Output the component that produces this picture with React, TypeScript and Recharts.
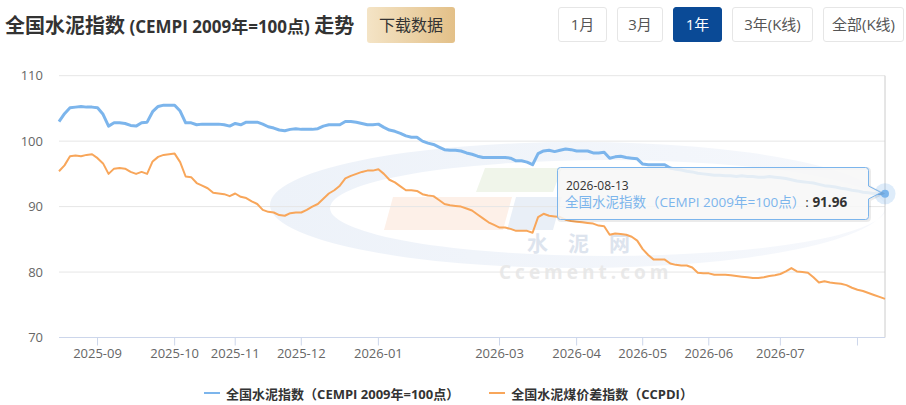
import { CartesianGrid, Line, LineChart, ReferenceLine, XAxis, YAxis } from "recharts";

document.body.style.margin = "0";

// one point per report day, 2025-08-13 .. 2026-08-13
const DATES = [
  "2025-08-13", "2025-08-15", "2025-08-18", "2025-08-20", "2025-08-22", "2025-08-26", "2025-08-28",
  "2025-09-01", "2025-09-03", "2025-09-05", "2025-09-08", "2025-09-10", "2025-09-12", "2025-09-15",
  "2025-09-17", "2025-09-19", "2025-09-22", "2025-09-24", "2025-09-26", "2025-09-28", "2025-09-30",
  "2025-10-09", "2025-10-10", "2025-10-13", "2025-10-15", "2025-10-17", "2025-10-20", "2025-10-22",
  "2025-10-24", "2025-10-27", "2025-10-29", "2025-10-31",
  "2025-11-03", "2025-11-05", "2025-11-07", "2025-11-10", "2025-11-12", "2025-11-14", "2025-11-17",
  "2025-11-19", "2025-11-21", "2025-11-24", "2025-11-26", "2025-11-28",
  "2025-12-01", "2025-12-03", "2025-12-05", "2025-12-08", "2025-12-10", "2025-12-12", "2025-12-15",
  "2025-12-17", "2025-12-19", "2025-12-22", "2025-12-24", "2025-12-26", "2025-12-29", "2025-12-31",
  "2026-01-05", "2026-01-07", "2026-01-09", "2026-01-12", "2026-01-14", "2026-01-16", "2026-01-19",
  "2026-01-21", "2026-01-23", "2026-01-26", "2026-01-28", "2026-01-30",
  "2026-02-02", "2026-02-04", "2026-02-06", "2026-02-09", "2026-02-11", "2026-02-13", "2026-02-24",
  "2026-02-25", "2026-02-26", "2026-02-27",
  "2026-03-02", "2026-03-04", "2026-03-06", "2026-03-09", "2026-03-11", "2026-03-13", "2026-03-16",
  "2026-03-18", "2026-03-20", "2026-03-23", "2026-03-25", "2026-03-27", "2026-03-30", "2026-03-31",
  "2026-04-01", "2026-04-03", "2026-04-07", "2026-04-09", "2026-04-13", "2026-04-15", "2026-04-17",
  "2026-04-20", "2026-04-22", "2026-04-24", "2026-04-27", "2026-04-29",
  "2026-05-06", "2026-05-08", "2026-05-11", "2026-05-13", "2026-05-15", "2026-05-18", "2026-05-20",
  "2026-05-22", "2026-05-25", "2026-05-27", "2026-05-28", "2026-05-29",
  "2026-06-01", "2026-06-03", "2026-06-05", "2026-06-08", "2026-06-10", "2026-06-12", "2026-06-15",
  "2026-06-17", "2026-06-19", "2026-06-22", "2026-06-24", "2026-06-26", "2026-06-29",
  "2026-07-01", "2026-07-03", "2026-07-06", "2026-07-08", "2026-07-10", "2026-07-13", "2026-07-15",
  "2026-07-17", "2026-07-20", "2026-07-22", "2026-07-24", "2026-07-27", "2026-07-29", "2026-07-31",
  "2026-08-03", "2026-08-05", "2026-08-07", "2026-08-10", "2026-08-12", "2026-08-13",
];

const CEMPI = [
  103.0, 104.2, 105.1, 105.2, 105.3, 105.2, 105.2, 105.1, 104.1, 102.3,
  102.8, 102.8, 102.7, 102.4, 102.3, 102.8, 102.9, 104.5, 105.3, 105.5,
  105.5, 105.5, 104.6, 102.8, 102.8, 102.5, 102.6, 102.6, 102.6, 102.6,
  102.5, 102.3, 102.7, 102.5, 102.9, 102.9, 102.9, 102.6, 102.2, 102.0,
  101.7, 101.6, 101.8, 101.9, 101.8, 101.8, 101.8, 101.9, 102.3, 102.5,
  102.5, 102.5, 103.0, 103.0, 102.9, 102.7, 102.5, 102.5, 102.6, 102.1,
  101.7, 101.5, 101.2, 100.8, 100.6, 100.6, 100.0, 99.7, 99.5, 99.1,
  98.7, 98.6, 98.6, 98.5, 98.2, 98.0, 97.7, 97.5, 97.5, 97.5,
  97.5, 97.5, 97.4, 97.0, 97.0, 96.8, 96.4, 98.1, 98.5, 98.6,
  98.4, 98.6, 98.8, 98.7, 98.5, 98.5, 98.5, 98.2, 98.2, 98.3,
  97.4, 97.6, 97.7, 97.5, 97.4, 97.3, 96.5, 96.4, 96.4, 96.4,
  96.4, 95.9, 95.7, 95.6, 95.4, 95.3, 95.1, 95.0, 94.9, 94.8,
  94.8, 94.7, 94.7, 94.6, 94.7, 94.6, 94.6, 94.5, 94.5, 94.6,
  94.5, 94.4, 94.3, 94.1, 93.9, 93.8, 93.7, 93.6, 93.4, 93.2,
  93.1, 93.0, 92.8, 92.7, 92.5, 92.4, 92.2, 92.1, 92.0, 92.0,
  91.96,
];

const CCPDI = [
  95.4, 96.3, 97.7, 97.8, 97.7, 97.9, 98.0, 97.4, 96.6, 95.0,
  95.8, 95.9, 95.8, 95.3, 95.0, 95.3, 95.0, 96.9, 97.6, 97.9,
  98.0, 98.1, 96.8, 94.6, 94.5, 93.6, 93.2, 92.8, 92.1, 92.0,
  91.9, 91.6, 92.0, 91.5, 91.3, 90.8, 90.4, 89.5, 89.2, 89.1,
  88.7, 88.6, 89.0, 89.1, 89.1, 89.5, 90.0, 90.4, 91.2, 92.0,
  92.5, 93.2, 94.3, 94.7, 95.0, 95.3, 95.5, 95.5, 95.7, 95.0,
  94.1, 93.7, 93.1, 92.5, 92.5, 92.4, 91.9, 91.7, 91.6, 91.0,
  90.4, 90.2, 90.1, 90.0, 89.7, 89.4, 88.8, 88.2, 87.6, 87.2,
  86.8, 86.8, 86.6, 86.3, 86.3, 86.3, 86.0, 88.4, 88.9, 88.6,
  88.5, 88.4, 88.0, 87.8, 87.7, 87.6, 87.5, 87.4, 87.1, 87.0,
  85.7, 85.9, 85.8, 85.7, 85.4, 84.8, 83.5, 82.6, 81.9, 81.9,
  81.9, 81.3, 81.1, 81.0, 81.0, 80.7, 79.9, 79.8, 79.8, 79.6,
  79.6, 79.6, 79.5, 79.4, 79.3, 79.2, 79.1, 79.1, 79.2, 79.4,
  79.5, 79.7, 80.1, 80.6, 80.1, 80.0, 79.9, 79.2, 78.4, 78.6,
  78.4, 78.3, 78.2, 78.0, 77.6, 77.3, 77.1, 76.8, 76.5, 76.2,
  75.9,
];

const Y_TICKS = [70, 80, 90, 100, 110];
const MONTH_TICKS = [
  "2025-09-01", "2025-10-09", "2025-11-03", "2025-12-01", "2026-01-05", "2026-03-02",
  "2026-04-01", "2026-05-06", "2026-06-01", "2026-07-01", "2026-08-03",
];
const HIDDEN_MONTH = "2026-08"; // tick drawn, label dropped (would overflow)

const RANGES = ["1月", "3月", "1年", "3年(K线)", "全部(K线)"];
const RANGE_WIDTHS = [49, 46, 49, 81, 81];
const ACTIVE_RANGE = "1年";

const CEMPI_NAME = "全国水泥指数（CEMPI 2009年=100点）";
const CCPDI_NAME = "全国水泥煤价差指数（CCPDI）";
const BLUE = "#7cb5ec";
const ORANGE = "#f8a65a";
const FONT = '"Open Sans", "Noto Sans CJK SC", sans-serif';

const LAST = DATES.length - 1;
const data = DATES.map((date, i) => ({ date, cempi: CEMPI[i], ccpdi: CCPDI[i] }));

function MonthTick(props: any) {
  const { x, y, payload } = props;
  const label = String(payload.value).slice(0, 7);
  if (label === HIDDEN_MONTH) return <g />;
  return (
    <text x={x} y={y} dy="0.71em" textAnchor="middle" fontSize={13} fill="#666" fontFamily={FONT}>
      {label}
    </text>
  );
}

function HoverDot(props: any) {
  const { cx, cy, index } = props;
  if (index !== LAST) return <g key={`d${index}`} />;
  return (
    <g key="hover">
      <circle cx={cx} cy={cy} r={10.5} fill={BLUE} fillOpacity={0.25} />
      <circle cx={cx} cy={cy} r={4} fill={BLUE} />
    </g>
  );
}

// faint site logo behind the plot
function Watermark() {
  return (
    <svg width={906} height={405} style={{ position: "absolute", left: 0, top: 0 }}>
      <defs>
        <linearGradient id="swoosh" x1="0" x2="1" y1="0" y2="0">
          <stop offset="0" stopColor="#edf2f9" />
          <stop offset="1" stopColor="#f6f8fc" />
        </linearGradient>
      </defs>
      <path
        fillRule="evenodd"
        fill="url(#swoosh)"
        d="M270 205 a308 63 0 1 0 616 0 a308 63 0 1 0 -616 0 Z M330 208 a278 48 0 1 0 556 0 a278 48 0 1 0 -556 0 Z"
      />
      <polygon points="485,168 562,168 553,192 476,192" fill="#f0f5ea" />
      <polygon points="393,197 512,197 503,230 384,230" fill="#fdf0e8" />
      <polygon points="516,197 562,197 553,230 507,230" fill="#e9eff7" />
      <text x={527} y={251} fontSize={21} fontWeight={700} fill="#dde4ee" letterSpacing={20} fontFamily={FONT}>
        水泥网
      </text>
      <text x={499} y={279} fontSize={19} fontWeight={700} fill="#e9e9e9" letterSpacing={4} fontFamily={FONT}>
        Ccement.com
      </text>
    </svg>
  );
}

function HoverTooltip() {
  const d = "M560.5 167.5 L865.5 167.5 Q868.5 167.5 868.5 170.5 L868.5 186 L881 192.5 L868.5 199 L868.5 216.5 Q868.5 219.5 865.5 219.5 L560.5 219.5 Q557.5 219.5 557.5 216.5 L557.5 170.5 Q557.5 167.5 560.5 167.5 Z";
  return (
    <svg width={906} height={405} style={{ position: "absolute", left: 0, top: 0, pointerEvents: "none" }}>
      <path d={d} transform="translate(1,1)" fill="none" stroke="rgba(0,0,0,0.08)" strokeWidth={3} />
      <path d={d} fill="rgba(247,247,247,0.85)" stroke={BLUE} strokeWidth={1} />
      <text x={566} y={189.5} fontSize={12} fill="#333" fontFamily={FONT}>
        {DATES[LAST]}
      </text>
      <text x={565} y={207} fontSize={13.5} fontFamily={FONT}>
        <tspan fill={BLUE}>{CEMPI_NAME}</tspan>
        <tspan fill="#333">: </tspan>
        <tspan fill="#333" fontWeight={700}>{CEMPI[LAST].toFixed(2)}</tspan>
      </text>
    </svg>
  );
}

export default function App() {
  return (
    <div style={{ position: "relative", width: 906, height: 405, background: "#fff", fontFamily: FONT, overflow: "hidden" }}>
      <div style={{ position: "absolute", left: 5, top: 12, lineHeight: "28px", color: "#333", fontWeight: 700, whiteSpace: "nowrap" }}>
        <span style={{ fontSize: 20 }}>全国水泥指数</span>
        <span style={{ fontSize: 17 }}> (CEMPI 2009年=100点) </span>
        <span style={{ fontSize: 20 }}>走势</span>
      </div>
      <div
        style={{
          position: "absolute",
          left: 367,
          top: 7,
          width: 88,
          height: 36,
          lineHeight: "36px",
          textAlign: "center",
          fontSize: 16,
          color: "#333",
          borderRadius: 3,
          background: "linear-gradient(90deg, #f4e4c6, #e3c088)",
        }}
      >
        下载数据
      </div>
      <div style={{ position: "absolute", left: 558, top: 7, display: "flex", gap: 10 }}>
        {RANGES.map((r, i) => {
          const on = r === ACTIVE_RANGE;
          return (
            <div
              key={r}
              style={{
                width: RANGE_WIDTHS[i],
                height: 35,
                boxSizing: "border-box",
                lineHeight: "33px",
                textAlign: "center",
                fontSize: 15,
                borderRadius: 3,
                border: on ? "1px solid #0a4a96" : "1px solid #e6e6e6",
                background: on ? "#0a4a96" : "#fff",
                color: on ? "#fff" : "#555",
                whiteSpace: "nowrap",
              }}
            >
              {r}
            </div>
          );
        })}
      </div>

      <Watermark />

      <div style={{ position: "absolute", left: 0, top: 60 }}>
        <LineChart width={906} height={310} data={data} margin={{ top: 15.7, right: 21, bottom: 2.5, left: 0 }}>
          <CartesianGrid vertical={false} stroke="#e6e6e6" />
          <XAxis
            dataKey="date"
            ticks={MONTH_TICKS}
            interval={0}
            height={30}
            tickSize={8}
            tickMargin={3}
            axisLine={{ stroke: "#ccd6eb" }}
            tickLine={{ stroke: "#ccd6eb" }}
            tick={<MonthTick />}
          />
          <YAxis
            domain={[70, 110]}
            ticks={Y_TICKS}
            width={59}
            axisLine={false}
            tickLine={false}
            tickSize={0}
            tickMargin={16}
            tick={{ fontSize: 13, fill: "#666", fontFamily: FONT }}
          />
          <ReferenceLine x={DATES[LAST]} stroke="#cccccc" />
          <Line
            type="linear"
            dataKey="cempi"
            name={CEMPI_NAME}
            stroke={BLUE}
            strokeWidth={3}
            strokeLinejoin="round"
            dot={HoverDot}
            activeDot={false}
            isAnimationActive={false}
          />
          <Line
            type="linear"
            dataKey="ccpdi"
            name={CCPDI_NAME}
            stroke={ORANGE}
            strokeWidth={2}
            strokeLinejoin="round"
            dot={false}
            activeDot={false}
            isAnimationActive={false}
          />
        </LineChart>
      </div>

      <HoverTooltip />

      <div
        style={{
          position: "absolute",
          left: 0,
          top: 383,
          width: 897,
          height: 20,
          display: "flex",
          justifyContent: "center",
          alignItems: "center",
          gap: 30,
          fontSize: 13,
          fontWeight: 700,
          color: "#333",
        }}
      >
        {[
          { name: CEMPI_NAME, color: BLUE },
          { name: CCPDI_NAME, color: ORANGE },
        ].map((s) => (
          <div key={s.name} style={{ display: "flex", alignItems: "center", gap: 6 }}>
            <span style={{ display: "inline-block", width: 16, height: 2, background: s.color }} />
            <span>{s.name}</span>
          </div>
        ))}
      </div>
    </div>
  );
}
